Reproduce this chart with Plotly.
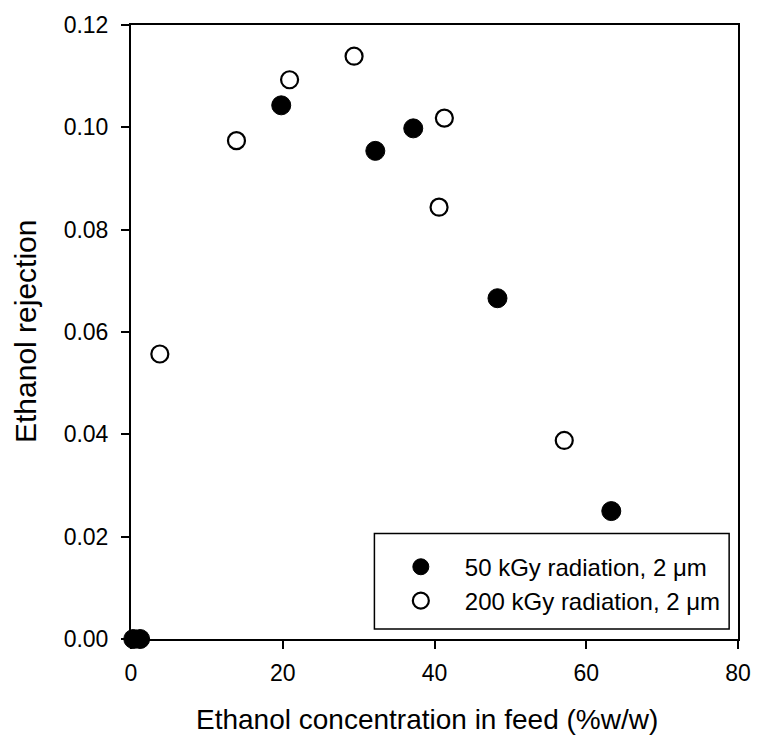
import plotly.graph_objects as go

# Data
x_50 = [0.3, 1.2, 19.8, 32.2, 37.2, 48.3, 63.3]
y_50 = [0.0, 0.0, 0.1043, 0.0954, 0.0998, 0.0666, 0.0250]

x_200 = [3.8, 13.9, 20.9, 29.4, 40.6, 41.3, 57.1]
y_200 = [0.0557, 0.0974, 0.1093, 0.1139, 0.0844, 0.1018, 0.0388]

name_50 = "50 kGy radiation, 2 \u03bcm"
name_200 = "200 kGy radiation, 2 \u03bcm"

x_ticks = [0, 20, 40, 60, 80]
y_ticks = [0.00, 0.02, 0.04, 0.06, 0.08, 0.10, 0.12]

FONT = "Arial, Liberation Sans, sans-serif"

fig = go.Figure()
fig.add_trace(go.Scatter(
    x=x_50, y=y_50, mode="markers", name=name_50, legend="legend",
    marker=dict(symbol="circle", size=19, color="black",
                line=dict(color="black", width=1)),
    cliponaxis=False,
))
fig.add_trace(go.Scatter(
    x=x_200, y=y_200, mode="markers", name=name_200, legend="legend2",
    marker=dict(symbol="circle", size=17, color="white",
                line=dict(color="black", width=2.2)),
    cliponaxis=False,
))

axis_common = dict(
    showgrid=False, zeroline=False, showline=True, linecolor="black",
    linewidth=2, mirror=True, ticks="outside", ticklen=8, tickwidth=1.5,
    tickcolor="black", tickfont=dict(family=FONT, size=23, color="black"),
)

fig.update_layout(
    width=763, height=740,
    margin=dict(l=131, r=16, t=24, b=101),
    paper_bgcolor="white", plot_bgcolor="white",
    font=dict(family=FONT, color="black"),
    xaxis=dict(range=[0, 80], tickvals=x_ticks, ticklabelstandoff=4,
               **axis_common),
    yaxis=dict(range=[0, 0.12], tickvals=y_ticks, tickformat=".2f",
               ticklabelstandoff=8, **axis_common),
    legend=dict(x=0.405, y=0.117, xanchor="left", yanchor="middle",
                bgcolor="rgba(0,0,0,0)", borderwidth=0, itemwidth=78,
                font=dict(family=FONT, size=24, color="black")),
    legend2=dict(x=0.405, y=0.0618, xanchor="left", yanchor="middle",
                 bgcolor="rgba(0,0,0,0)", borderwidth=0, itemwidth=78,
                 font=dict(family=FONT, size=24, color="black")),
    showlegend=True,
)

# legend frame
fig.add_shape(type="rect", xref="paper", yref="paper",
              x0=0.401, x1=0.9854, y0=0.0163, y1=0.172,
              line=dict(color="black", width=1.5), fillcolor="rgba(0,0,0,0)",
              layer="below")

# axis titles
fig.add_annotation(text="Ethanol concentration in feed (%w/w)",
                   xref="paper", yref="paper", x=(431.5 - 131) / 616, y=0,
                   yshift=-80, xanchor="center", yanchor="middle",
                   showarrow=False, font=dict(family=FONT, size=28, color="black"))
fig.add_annotation(text="Ethanol rejection", textangle=-90,
                   xref="paper", yref="paper", x=0, y=0.5,
                   xshift=-106, xanchor="center", yanchor="middle",
                   showarrow=False, font=dict(family=FONT, size=30, color="black"))

# remove the browser's default page margin so the figure sits at (0, 0)
fig.write_html("out.html", config={"displayModeBar": False},
               post_script="document.body.style.margin='0';")
